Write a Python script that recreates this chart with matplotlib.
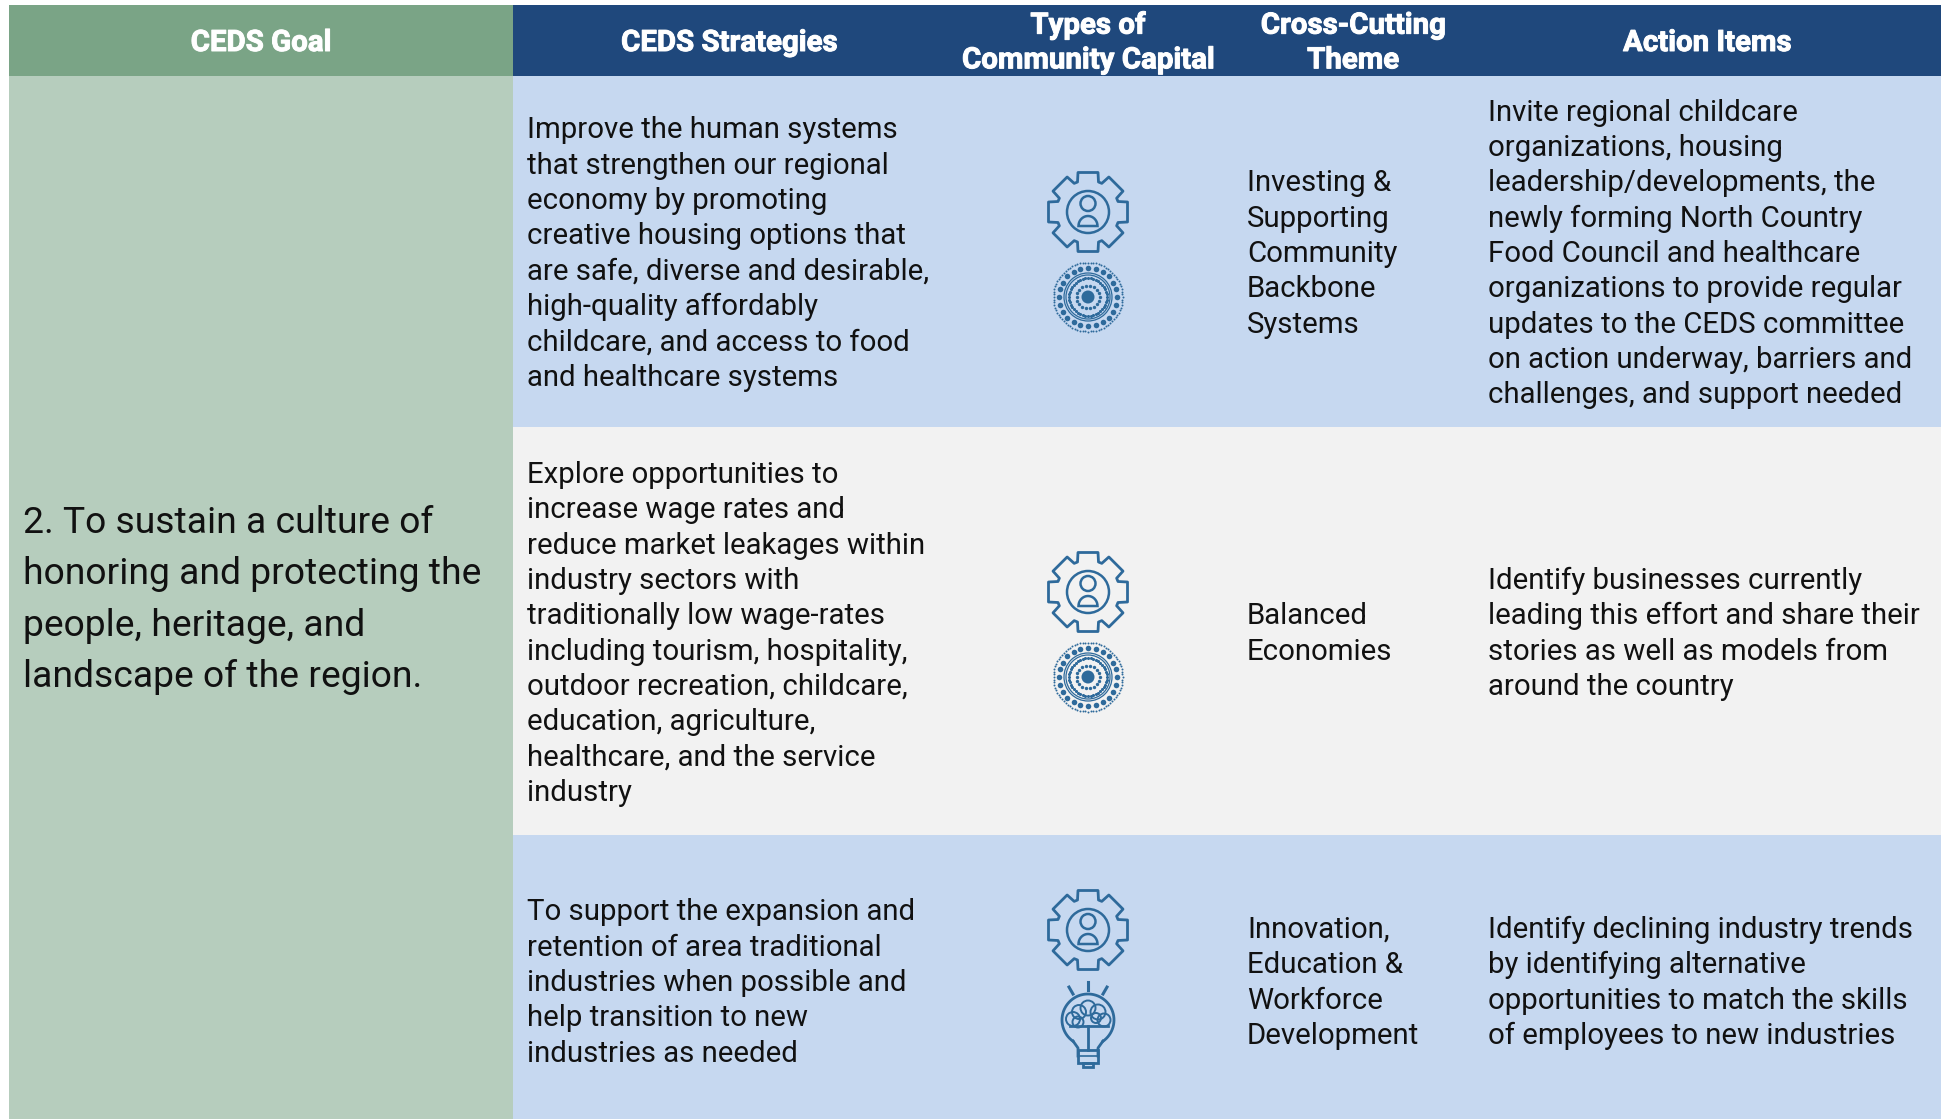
import numpy as np
import matplotlib
matplotlib.use('Agg')
import matplotlib.pyplot as plt
import matplotlib.patheffects as pe
from matplotlib.patches import Circle, Polygon, Rectangle

plt.rcParams['font.family'] = ['Roboto', 'DejaVu Sans']

# table text
headers = [['CEDS Goal'], ['CEDS Strategies'], ['Types of', 'Community Capital'],
           ['Cross-Cutting', 'Theme'], ['Action Items']]
goal_lines = ['2. To sustain a culture of', 'honoring and protecting the',
              'people, heritage, and', 'landscape of the region.']
strategies = [
    ['Improve the human systems', 'that strengthen our regional', 'economy by promoting',
     'creative housing options that', 'are safe, diverse and desirable,', 'high-quality affordably',
     'childcare, and access to food', 'and healthcare systems'],
    ['Explore opportunities to', 'increase wage rates and', 'reduce market leakages within',
     'industry sectors with', 'traditionally low wage-rates', 'including tourism, hospitality,',
     'outdoor recreation, childcare,', 'education, agriculture,', 'healthcare, and the service', 'industry'],
    ['To support the expansion and', 'retention of area traditional', 'industries when possible and',
     'help transition to new', 'industries as needed'],
]
themes = [
    ['Investing &', 'Supporting', 'Community', 'Backbone', 'Systems'],
    ['Balanced', 'Economies'],
    ['Innovation,', 'Education &', 'Workforce', 'Development'],
]
actions = [
    ['Invite regional childcare', 'organizations, housing', 'leadership/developments, the',
     'newly forming North Country', 'Food Council and healthcare', 'organizations to provide regular',
     'updates to the CEDS committee', 'on action underway, barriers and', 'challenges, and support needed'],
    ['Identify businesses currently', 'leading this effort and share their',
     'stories as well as models from', 'around the country'],
    ['Identify declining industry trends', 'by identifying alternative',
     'opportunities to match the skills', 'of employees to new industries'],
]
row_icons = [['gear', 'mandala'], ['gear', 'mandala'], ['gear', 'bulb']]

# layout in reference pixels
W, H = 1946, 1119
col_edges = [9, 513, 1941]
header_top, header_bottom = 5, 76
row_edges = [76, 427, 835, H]
row_colors = ['#c6d8f0', '#f2f2f2', '#c6d8f0']
row_centers = [251, 631, 980]
header_x = [261, 729, 1088, 1353, 1707]
icon_y = [(212, 297), (592, 677), (930, 1020)]
ICON = '#2e6a9b'

fig = plt.figure(figsize=(W / 100, H / 100), dpi=100)
ax = fig.add_axes([0, 0, 1, 1])
ax.set_xlim(0, W)
ax.set_ylim(H, 0)
ax.axis('off')


def block(x, yc, lines, size, step, color='#111111', **kw):
    n = len(lines)
    out = []
    for i, s in enumerate(lines):
        out.append(ax.text(x, yc + (i - (n - 1) / 2) * step, s, fontsize=size, color=color,
                           va='center_baseline', **kw))
    return out


def gear(cx, cy):
    pts = []
    ro, ri = 39.5, 30
    for k in range(8):
        a = np.pi / 4 * k
        u = np.array([np.cos(a), np.sin(a)])
        v = np.array([-u[1], u[0]])
        pts += [u * ri - v * 10.5, u * ro - v * 10, u * ro + v * 10, u * ri + v * 10.5]
    pts = np.array(pts) + [cx, cy]
    ax.add_patch(Polygon(pts, closed=True, fill=False, ec=ICON, lw=2.0, joinstyle='round'))
    ax.add_patch(Circle((cx, cy), 21, fill=False, ec=ICON, lw=1.8))
    ax.add_patch(Circle((cx, cy - 8.5), 7.5, fill=False, ec=ICON, lw=1.8))
    t = np.linspace(np.pi, 2 * np.pi, 20)
    body = np.c_[cx + 9.5 * np.cos(t), cy + 14 + 10 * np.sin(t)]
    ax.add_patch(Polygon(body, closed=True, fill=False, ec=ICON, lw=1.8))


def dot_ring(cx, cy, r, n, size):
    t = np.linspace(0, 2 * np.pi, n, endpoint=False)
    ax.scatter(cx + r * np.cos(t), cy + r * np.sin(t), s=size, color=ICON, lw=0)


def mandala(cx, cy):
    dot_ring(cx, cy, 34.5, 80, 2)
    dot_ring(cx, cy, 29, 24, 16)
    for r in (24, 22):
        ax.add_patch(Circle((cx, cy), r, fill=False, ec=ICON, lw=0.9))
    dot_ring(cx, cy, 19, 44, 5)
    dot_ring(cx, cy, 11.5, 18, 6)
    ax.add_patch(Circle((cx, cy), 6.5, color=ICON, lw=0))


def bulb(cx, cy):
    lw = 2.0
    t = np.radians(np.linspace(-235, 55, 60))
    outline = np.c_[cx + 26 * np.cos(t), cy + 26 * np.sin(t)]
    ax.plot(outline[:, 0], outline[:, 1], color=ICON, lw=lw)
    ax.plot([cx - 15, cx - 10, cx - 10], [cy + 21, cy + 28, cy + 36], color=ICON, lw=lw)
    ax.plot([cx + 15, cx + 10, cx + 10], [cy + 21, cy + 28, cy + 36], color=ICON, lw=lw)
    ax.add_patch(Rectangle((cx - 10, cy + 30), 20, 13, fill=False, ec=ICON, lw=lw))
    ax.plot([cx - 10, cx + 10], [cy + 36, cy + 36], color=ICON, lw=1.2)
    ax.add_patch(Rectangle((cx - 5, cy + 43), 10, 4, fill=False, ec=ICON, lw=lw))
    ax.plot([cx, cx], [cy + 6, cy + 30], color=ICON, lw=lw)
    # brain cloud
    for dx, dy, r in [(-15, -1, 7), (-9, -8, 7), (0, -12, 7.5), (10, -8, 7.5), (16, 0, 6.5),
                      (-10, 2, 5.5), (8, -2, 5)]:
        ax.add_patch(Circle((cx + dx, cy + dy), r, fill=False, ec=ICON, lw=1.4))
    ax.plot([cx - 18, cx + 20], [cy + 6, cy + 6], color=ICON, lw=lw)
    for a in (-90, -60, -120):
        c, s = np.cos(np.radians(a)), np.sin(np.radians(a))
        ax.plot([cx + 30 * c, cx + 38 * c], [cy + 30 * s, cy + 38 * s], color=ICON, lw=2.2)


draw_icon = {'gear': gear, 'mandala': mandala, 'bulb': bulb}

# backgrounds
ax.add_patch(Rectangle((col_edges[0], header_top), col_edges[1] - col_edges[0],
                       header_bottom - header_top, color='#7aa486', lw=0))
ax.add_patch(Rectangle((col_edges[1], header_top), col_edges[2] - col_edges[1],
                       header_bottom - header_top, color='#1f487c', lw=0))
ax.add_patch(Rectangle((col_edges[0], header_bottom), col_edges[1] - col_edges[0],
                       H - header_bottom, color='#b6cdbd', lw=0))
for i, c in enumerate(row_colors):
    ax.add_patch(Rectangle((col_edges[1], row_edges[i]), col_edges[2] - col_edges[1],
                           row_edges[i + 1] - row_edges[i], color=c, lw=0))

# header labels
for x, lines in zip(header_x, headers):
    for t in block(x, 40, lines, 21.2, 34.7, color='white', ha='center', fontweight='bold'):
        t.set_path_effects([pe.withStroke(linewidth=0.7, foreground='white')])

# goal column
block(23, 596, goal_lines, 26.8, 51.4, ha='left')

# body rows
for i in range(3):
    block(527, row_centers[i], strategies[i], 21.15, 35.3, ha='left')
    block(1247, row_centers[i], themes[i], 21.15, 35.3, ha='left')
    block(1488, row_centers[i], actions[i], 21.15, 35.3, ha='left')
    for name, y in zip(row_icons[i], icon_y[i]):
        draw_icon[name](1088, y)

fig.savefig('out.png', dpi=100)
